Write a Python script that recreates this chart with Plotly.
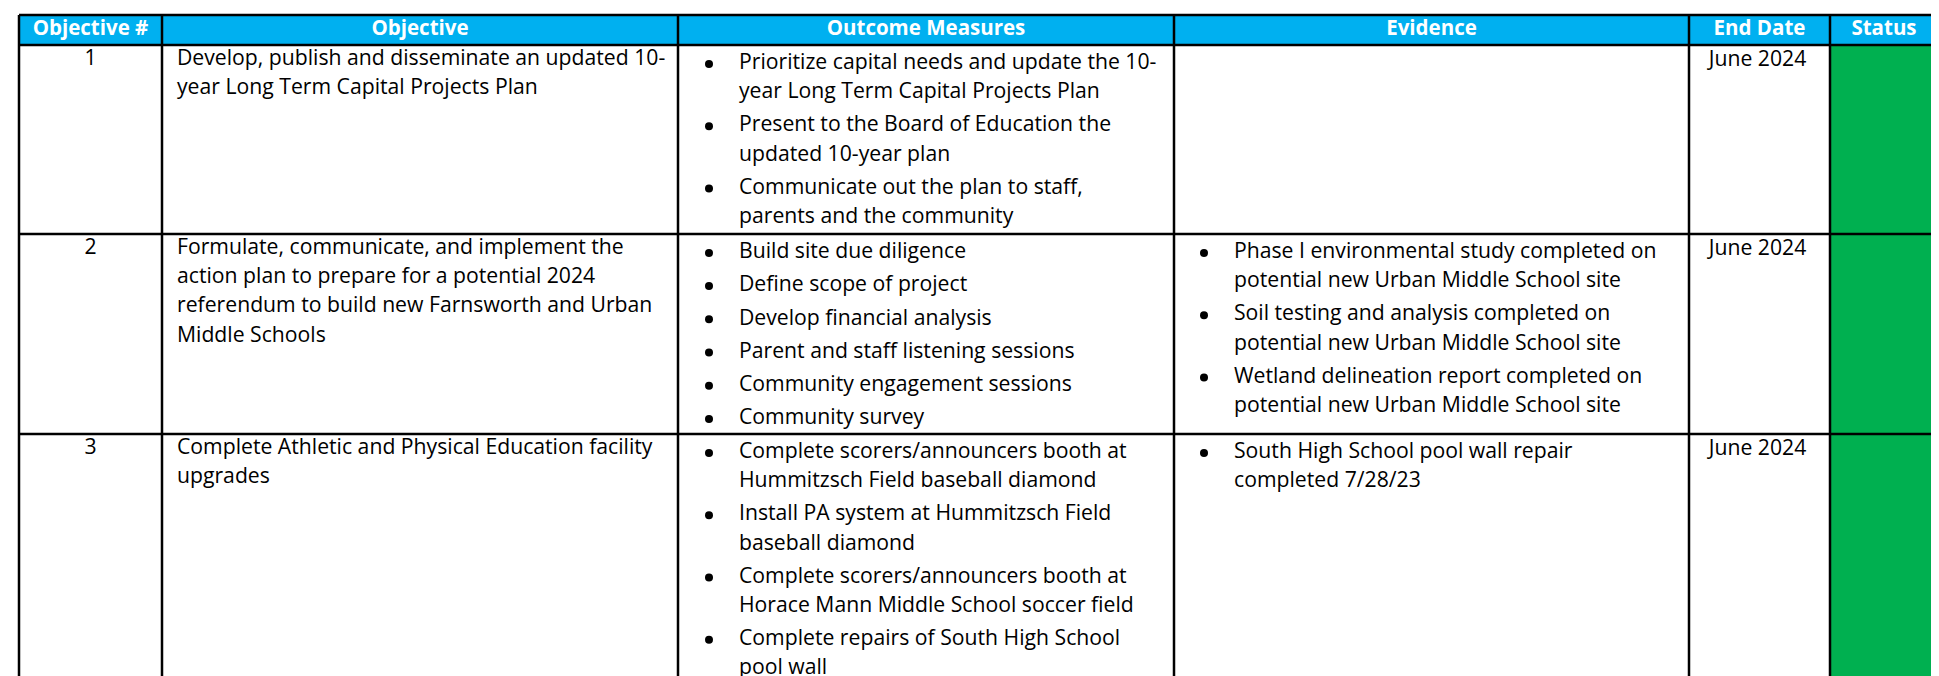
import plotly.graph_objects as go

# ---------------- data ----------------
headers = ["Objective #", "Objective", "Outcome Measures", "Evidence", "End Date", "Status"]

objective_nums = ["1", "2", "3"]

objectives = [
    ["Develop, publish and disseminate an updated 10-",
     "year Long Term Capital Projects Plan"],
    ["Formulate, communicate, and implement the",
     "action plan to prepare for a potential 2024",
     "referendum to build new Farnsworth and Urban",
     "Middle Schools"],
    ["Complete Athletic and Physical Education facility",
     "upgrades"],
]

outcome_measures = [
    [["Prioritize capital needs and update the 10-", "year Long Term Capital Projects Plan"],
     ["Present to the Board of Education the", "updated 10-year plan"],
     ["Communicate out the plan to staff,", "parents and the community"]],
    [["Build site due diligence"],
     ["Define scope of project"],
     ["Develop financial analysis"],
     ["Parent and staff listening sessions"],
     ["Community engagement sessions"],
     ["Community survey"]],
    [["Complete scorers/announcers booth at", "Hummitzsch Field baseball diamond"],
     ["Install PA system at Hummitzsch Field", "baseball diamond"],
     ["Complete scorers/announcers booth at", "Horace Mann Middle School soccer field"],
     ["Complete repairs of South High School", "pool wall"]],
]

evidence = [
    [],
    [["Phase I environmental study completed on", "potential new Urban Middle School site"],
     ["Soil testing and analysis completed on", "potential new Urban Middle School site"],
     ["Wetland delineation report completed on", "potential new Urban Middle School site"]],
    [["South High School pool wall repair", "completed 7/28/23"]],
]

end_dates = ["June 2024", "June 2024", "June 2024"]
statuses = ["Green", "Green", "Green"]

# ---------------- layout constants ----------------
W, H = 1939, 676
col_edges = [11, 154, 670, 1166, 1681, 1822, 1930]
header_top, header_bottom = 7, 37
row_bottoms = [226, 426, 760]
HEADER_BG = "#00B0F0"
STATUS_COLORS = {"Green": "#00B050"}
FONT = "'Open Sans', Lato, sans-serif"
FS = 21.2
HFS = 20.5
LINE = 29.1
PARA = 33.2
YS = -1.5  # small upward nudge for body text

fig = go.Figure()
fig.add_trace(go.Scatter(x=[0, W], y=[0, H], mode="markers",
                         marker=dict(opacity=0), hoverinfo="skip", showlegend=False))

shapes = []
left_x, left_y, left_t = [], [], []
ctr_x, ctr_y, ctr_t = [], [], []
hdr_x, hdr_y, hdr_t = [], [], []
bullet_x, bullet_y = [], []

def rect(x0, y0, x1, y1, fill):
    shapes.append(dict(type="rect", xref="x", yref="y", x0=x0, x1=x1, y0=y0, y1=y1,
                       fillcolor=fill, line=dict(width=0), layer="below"))

def line(x0, y0, x1, y1):
    shapes.append(dict(type="line", xref="x", yref="y", x0=x0, x1=x1, y0=y0, y1=y1,
                       line=dict(color="black", width=2.5), layer="above"))

# header
rect(col_edges[0], header_top, col_edges[-1], header_bottom, HEADER_BG)
for i, h in enumerate(headers):
    hdr_x.append((col_edges[i] + col_edges[i + 1]) / 2)
    hdr_y.append((header_top + header_bottom) / 2)
    hdr_t.append(f"<b>{h}</b>")

row_tops = [header_bottom] + row_bottoms[:-1]

def bullets(items, top, x_bullet, x_text):
    y = top + 20.4 + YS
    for item in items:
        bullet_x.append(x_bullet)
        bullet_y.append(y)
        for k, ln in enumerate(item):
            left_x.append(x_text)
            left_y.append(y + k * LINE)
            left_t.append(ln)
        y += (len(item) - 1) * LINE + PARA

for r in range(3):
    top, bot = row_tops[r], row_bottoms[r]
    rect(col_edges[5], top, col_edges[6], bot, STATUS_COLORS[statuses[r]])
    ctr_x.append((col_edges[0] + col_edges[1]) / 2)
    ctr_y.append(top + 16.5 + YS)
    ctr_t.append(objective_nums[r])
    for k, ln in enumerate(objectives[r]):
        left_x.append(col_edges[1] + 15)
        left_y.append(top + 16.5 + YS + k * LINE)
        left_t.append(ln)
    bullets(outcome_measures[r], top, col_edges[2] + 31, col_edges[2] + 61)
    bullets(evidence[r], top, col_edges[3] + 30, col_edges[3] + 60)
    ctr_x.append((col_edges[4] + col_edges[5]) / 2 - 2)
    ctr_y.append(top + 17 + YS)
    ctr_t.append(end_dates[r])

fig.add_trace(go.Scatter(x=left_x, y=left_y, text=left_t, mode="text",
                         textposition="middle right",
                         textfont=dict(family=FONT, size=FS, color="black"),
                         hoverinfo="skip", showlegend=False, cliponaxis=False))
fig.add_trace(go.Scatter(x=ctr_x, y=ctr_y, text=ctr_t, mode="text",
                         textposition="middle center",
                         textfont=dict(family=FONT, size=FS, color="black"),
                         hoverinfo="skip", showlegend=False, cliponaxis=False))
fig.add_trace(go.Scatter(x=hdr_x, y=hdr_y, text=hdr_t, mode="text",
                         textposition="middle center",
                         textfont=dict(family=FONT, size=HFS, color="white"),
                         hoverinfo="skip", showlegend=False, cliponaxis=False))
fig.add_trace(go.Scatter(x=bullet_x, y=bullet_y, mode="markers",
                         marker=dict(symbol="circle", size=8, color="black"),
                         hoverinfo="skip", showlegend=False))

# grid lines
all_h = [header_top, header_bottom] + row_bottoms
for y in all_h:
    line(col_edges[0], y, col_edges[-1], y)
for x in col_edges:
    line(x, header_top, x, row_bottoms[-1])

fig.update_layout(
    width=W, height=H,
    margin=dict(l=0, r=0, t=0, b=0),
    paper_bgcolor="white", plot_bgcolor="white",
    xaxis=dict(range=[0, W], visible=False, fixedrange=True),
    yaxis=dict(range=[H, 0], visible=False, fixedrange=True),
    shapes=shapes, showlegend=False,
)

fig.write_html("out.html")
